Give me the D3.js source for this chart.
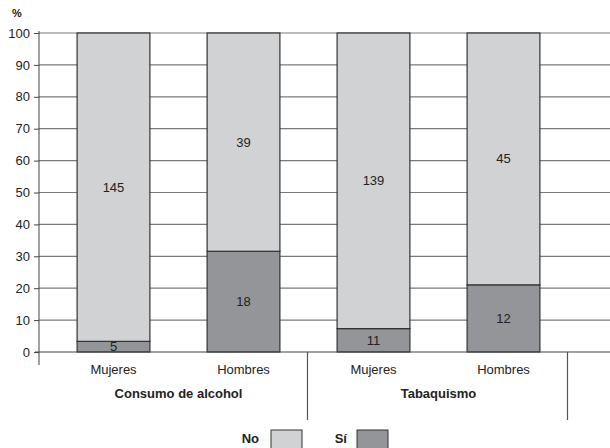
<!DOCTYPE html>
<html>
<head>
<meta charset="utf-8">
<script src="https://cdn.jsdelivr.net/npm/d3@7"></script>
<style>
  body { margin: 0; background: #fff; }
  text { font-family: "Liberation Sans", Arial, sans-serif; fill: #222; }
</style>
</head>
<body>
<div id="chart"></div>
<script>
// groups and bars
const groups = ["Consumo de alcohol", "Tabaquismo"];
const bars = ["Mujeres", "Hombres", "Mujeres", "Hombres"];
const barGroup = [0, 0, 1, 1];
// counts per bar
const siCounts = [5, 18, 11, 12];
const noCounts = [145, 39, 139, 45];
const yTicks = [0, 10, 20, 30, 40, 50, 60, 70, 80, 90, 100];
const legendLabels = ["No", "Sí"];

const width = 610, height = 448;
const colors = { no: "#d1d2d4", si: "#939598" };
const fs = 13;

const svg = d3.select("#chart").append("svg")
    .attr("width", width)
    .attr("height", height);

const y = d3.scaleLinear().domain([0, 100]).range([352, 33]);
const x = d3.scaleBand().domain(d3.range(bars.length))
    .range([48.5, 568.5]).paddingInner(0.44).paddingOuter(0.22);

// gridlines
svg.append("g").selectAll("line")
  .data(yTicks.slice(1))
  .join("line")
    .attr("x1", 39).attr("x2", width)
    .attr("y1", d => y(d)).attr("y2", d => y(d))
    .attr("stroke", "#7a7a7a").attr("stroke-width", 1.2);

// y axis
const yAxis = svg.append("g")
    .attr("transform", "translate(39,0)")
    .call(d3.axisLeft(y).tickValues(yTicks).tickSize(5).tickPadding(4));
yAxis.select(".domain").remove();
yAxis.selectAll("line").attr("stroke", "#444");
yAxis.selectAll("text")
    .style("font-family", "Liberation Sans, Arial, sans-serif")
    .attr("font-size", fs).attr("fill", "#222");
svg.append("line")
    .attr("x1", 39).attr("x2", 39)
    .attr("y1", y(100) - 2).attr("y2", 365)
    .attr("stroke", "#444");

svg.append("text")
    .attr("x", 12).attr("y", 17)
    .attr("font-size", 11).attr("font-weight", "bold")
    .text("%");

const data = bars.map((b, i) => {
  const total = siCounts[i] + noCounts[i];
  return { i, label: b, si: siCounts[i], no: noCounts[i],
           siPct: siCounts[i] / total * 100 };
});

const g = svg.append("g");
// Sí segment
g.selectAll(".si")
  .data(data)
  .join("rect")
    .attr("x", d => x(d.i))
    .attr("width", x.bandwidth())
    .attr("y", d => y(d.siPct))
    .attr("height", d => y(0) - y(d.siPct))
    .attr("fill", colors.si).attr("stroke", "#333").attr("stroke-width", 1.2);
// No segment
g.selectAll(".no")
  .data(data)
  .join("rect")
    .attr("x", d => x(d.i))
    .attr("width", x.bandwidth())
    .attr("y", y(100))
    .attr("height", d => y(d.siPct) - y(100))
    .attr("fill", colors.no).attr("stroke", "#333").attr("stroke-width", 1.2);

// value labels
g.selectAll(".lsi")
  .data(data)
  .join("text")
    .attr("x", d => x(d.i) + x.bandwidth() / 2)
    .attr("y", d => y(d.siPct / 2) + 4.5)
    .attr("text-anchor", "middle").attr("font-size", fs)
    .text(d => d.si);
g.selectAll(".lno")
  .data(data)
  .join("text")
    .attr("x", d => x(d.i) + x.bandwidth() / 2)
    .attr("y", d => y((d.siPct + 100) / 2) + 4.5)
    .attr("text-anchor", "middle").attr("font-size", fs)
    .text(d => d.no);

// zero baseline
svg.append("line")
    .attr("x1", 35).attr("x2", width)
    .attr("y1", y(0)).attr("y2", y(0))
    .attr("stroke", "#444").attr("stroke-width", 1.2);

// category labels
svg.append("g").selectAll("text")
  .data(data)
  .join("text")
    .attr("x", d => x(d.i) + x.bandwidth() / 2)
    .attr("y", 374)
    .attr("text-anchor", "middle").attr("font-size", fs)
    .text(d => d.label);

// group labels
svg.append("g").selectAll("text")
  .data(groups)
  .join("text")
    .attr("x", (d, gi) => {
      const idx = d3.range(bars.length).filter(k => barGroup[k] === gi);
      return (x(idx[0]) + x(idx[idx.length - 1]) + x.bandwidth()) / 2;
    })
    .attr("y", 398)
    .attr("text-anchor", "middle").attr("font-size", fs).attr("font-weight", "bold")
    .text(d => d);

// group separators
[307.5, 567.5].forEach(sx => {
  svg.append("line")
    .attr("x1", sx).attr("x2", sx)
    .attr("y1", y(0)).attr("y2", 420)
    .attr("stroke", "#555").attr("stroke-width", 1.2);
});

// legend
const legend = svg.append("g");
const legendX = [259, 347];
const legendBoxX = [271, 357];
legendLabels.forEach((l, k) => {
  legend.append("text")
    .attr("x", legendX[k]).attr("y", 443)
    .attr("text-anchor", "end").attr("font-size", fs).attr("font-weight", "bold")
    .text(l);
  legend.append("rect")
    .attr("x", legendBoxX[k]).attr("y", 430)
    .attr("width", 31).attr("height", 20)
    .attr("fill", k === 0 ? colors.no : colors.si)
    .attr("stroke", "#333");
});
</script>
</body>
</html>
